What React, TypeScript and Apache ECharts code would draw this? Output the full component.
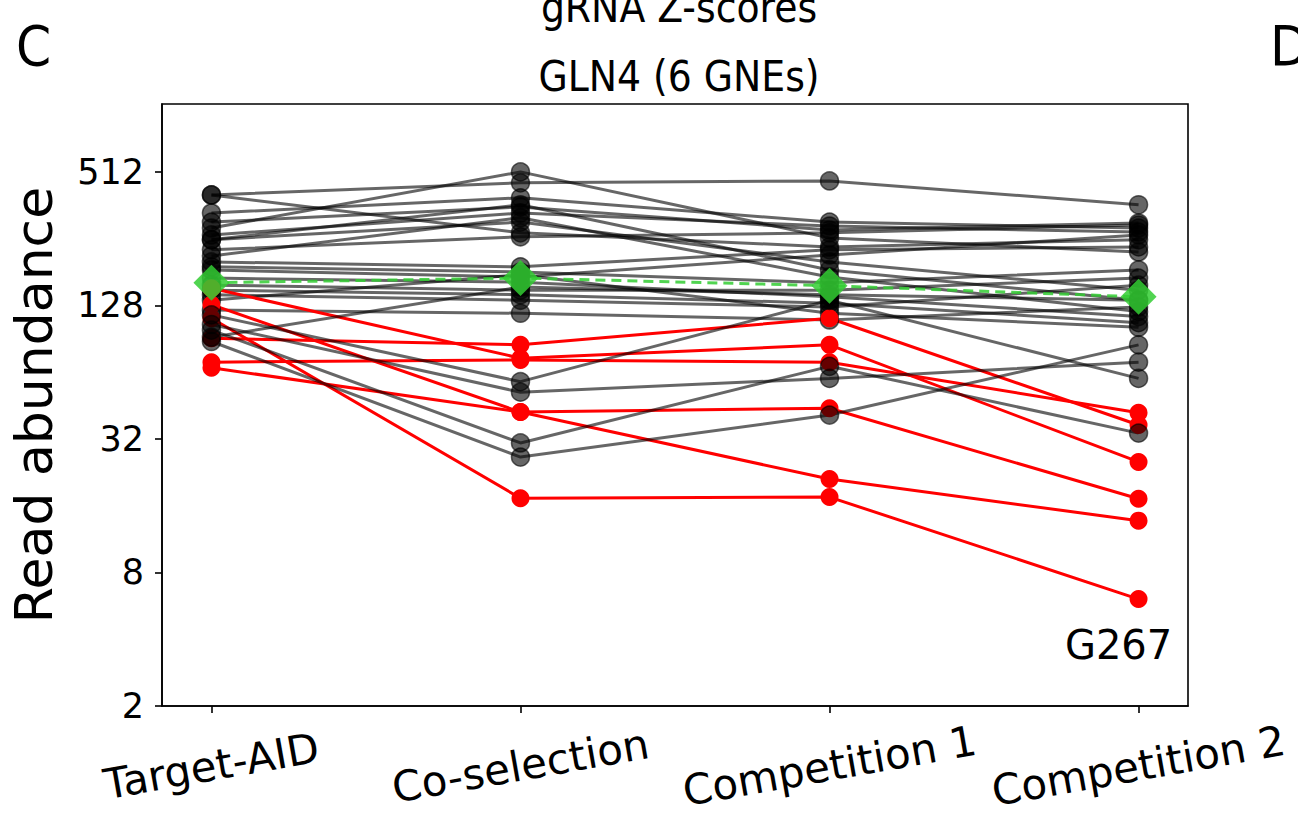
import React, { useEffect, useRef } from "react";
import * as echarts from "echarts";

// Stages along the x axis
const stages = ["Target-AID", "Co-selection", "Competition 1", "Competition 2"];
// Log2 y-axis tick labels
const yTicks = [2, 8, 32, 128, 512];
const yMax = 1036;

// Non-GNE gRNAs (grey), drawn below the GNE lines
const grnaUpper: number[][] = [
  [403, 457, 466, 364],
  [403, 272, 235, 253],
  [334, 391, 304, 286],
  [304, 356, 280, 301],
  [286, 512, 258, 223],
  [266, 334, 292, 274],
  [253, 304, 201, 150],
  [253, 364, 185, 135],
  [228, 261, 272, 295],
  [214, 318, 172, 120],
  [201, 191, 228, 235],
  [191, 181, 162, 185],
  [185, 172, 216, 266],
  [170, 163, 140, 114],
  [158, 150, 150, 170],
  [150, 143, 131, 107],
  [143, 135, 126, 158],
  [135, 176, 118, 102],
  [122, 118, 110, 126],
];
// Non-GNE gRNAs drawn above the GNE lines
const grnaLower: number[][] = [
  [116, 58, 135, 60],
  [105, 52, 60, 71],
  [99, 30.7, 68, 34],
  [88, 26.5, 41, 85],
  [92, 155, 143, 135],
];
// GNE gRNAs (red)
const gneAbundance: number[][] = [
  [91, 85, 112, 37],
  [153, 74, 85, 25.2],
  [71, 72.7, 71, 42],
  [129, 42.3, 44, 17.2],
  [67, 42.3, 21.1, 13.7],
  [112, 17.3, 17.5, 6.07],
];
// Mean abundance (green diamonds)
const meanAbundance = [162, 170, 157, 140];
// Labelled gRNA: index in gneAbundance and its name
const labelledIndex = 5;
const labelledName = "G267";

const condensed = "'DejaVu Sans Condensed', 'Liberation Sans Narrow', 'DejaVu Sans', sans-serif";
const sans = "'DejaVu Sans', sans-serif";

function toPoints(vals: number[]) {
  return vals.map((v, i) => [i, Math.log2(v)]);
}

export default function App() {
  const ref = useRef<HTMLDivElement>(null);
  useEffect(() => {
    if (!ref.current) return;
    const chart = echarts.init(ref.current, undefined, { renderer: "svg" });

    const grey = (vals: number[]) => ({
      type: "line",
      data: toPoints(vals),
      symbol: "circle",
      symbolSize: 18,
      silent: true,
      lineStyle: { color: "rgba(0,0,0,0.6)", width: 3 },
      itemStyle: { color: "rgba(0,0,0,0.6)", borderColor: "rgba(0,0,0,0.6)", borderWidth: 1.5 },
      emphasis: { disabled: true },
    });

    const red = (vals: number[], idx: number) => ({
      type: "line",
      data: toPoints(vals).map((p, i) =>
        idx === labelledIndex && i === 3
          ? {
              value: p,
              label: {
                show: true,
                formatter: labelledName,
                position: "bottom",
                distance: 17,
                offset: [-20, 0],
                fontSize: 40,
                fontFamily: sans,
                color: "#000",
              },
            }
          : p
      ),
      symbol: "circle",
      symbolSize: 18,
      silent: true,
      lineStyle: { color: "#ff0000", width: 3 },
      itemStyle: { color: "#ff0000", borderWidth: 0 },
      emphasis: { disabled: true },
    });

    const series: any[] = [
      ...grnaUpper.map(grey),
      ...gneAbundance.map(red),
      ...grnaLower.map(grey),
      {
        type: "line",
        data: toPoints(meanAbundance),
        symbol: "diamond",
        symbolSize: 36,
        silent: true,
        lineStyle: { color: "rgba(50,205,50,0.85)", width: 3, type: [10, 6] },
        itemStyle: { color: "rgba(50,205,50,0.85)", borderWidth: 0 },
        emphasis: { disabled: true },
      },
    ];

    const xTickVals = stages.map((_, i) => i);
    const yTickVals = yTicks.map((t) => Math.log2(t));

    chart.setOption({
      animation: false,
      backgroundColor: "#ffffff",
      grid: {
        left: 160,
        right: 110,
        top: 104,
        bottom: 109,
        show: true,
        borderColor: "#000",
        borderWidth: 1.6,
        containLabel: false,
      },
      xAxis: {
        type: "value",
        min: -0.16,
        max: 3.16,
        axisLine: { show: true, onZero: false, lineStyle: { color: "#000", width: 1.6 } },
        axisTick: { show: true, length: 7, inside: false, lineStyle: { color: "#000", width: 1.6 }, customValues: xTickVals },
        axisLabel: {
          customValues: xTickVals,
          formatter: (v: number) => stages[Math.round(v)] ?? "",
          rotate: 10,
          align: "center",
          verticalAlign: "middle",
          margin: 60,
          fontSize: 42,
          fontFamily: sans,
          color: "#000",
        },
        splitLine: { show: false },
      },
      yAxis: {
        type: "value",
        min: 1,
        max: Math.log2(yMax),
        name: "Read abundance",
        nameLocation: "middle",
        nameRotate: 90,
        nameGap: 102,
        nameTextStyle: { fontSize: 52, fontFamily: sans, color: "#000" },
        axisLine: { show: true, onZero: false, lineStyle: { color: "#000", width: 1.6 } },
        axisTick: { show: true, length: 7, inside: false, lineStyle: { color: "#000", width: 1.6 }, customValues: yTickVals },
        axisLabel: {
          customValues: yTickVals,
          formatter: (v: number) => String(Math.round(Math.pow(2, v))),
          margin: 18,
          fontSize: 35,
          fontFamily: sans,
          color: "#000",
        },
        splitLine: { show: false },
      },
      graphic: [
        {
          type: "text",
          x: 679,
          y: 7,
          style: { text: "gRNA Z-scores", fontSize: 42, fontFamily: condensed, fill: "#000", textAlign: "center", textVerticalAlign: "middle" },
          silent: true,
        },
        {
          type: "text",
          x: 679,
          y: 76,
          style: { text: "GLN4 (6 GNEs)", fontSize: 42, fontFamily: condensed, fill: "#000", textAlign: "center", textVerticalAlign: "middle" },
          silent: true,
        },
        {
          type: "text",
          x: 16,
          y: 45,
          style: { text: "C", fontSize: 56, fontFamily: condensed, fill: "#000", textAlign: "left", textVerticalAlign: "middle" },
          silent: true,
        },
        {
          type: "text",
          x: 1270,
          y: 45,
          style: { text: "D", fontSize: 56, fontFamily: condensed, fill: "#000", textAlign: "left", textVerticalAlign: "middle" },
          silent: true,
        },
      ],
      series,
    });

    return () => chart.dispose();
  }, []);

  return (
    <div
      ref={ref}
      style={{ position: "absolute", left: 0, top: 0, width: 1298, height: 815, background: "#fff" }}
    />
  );
}
